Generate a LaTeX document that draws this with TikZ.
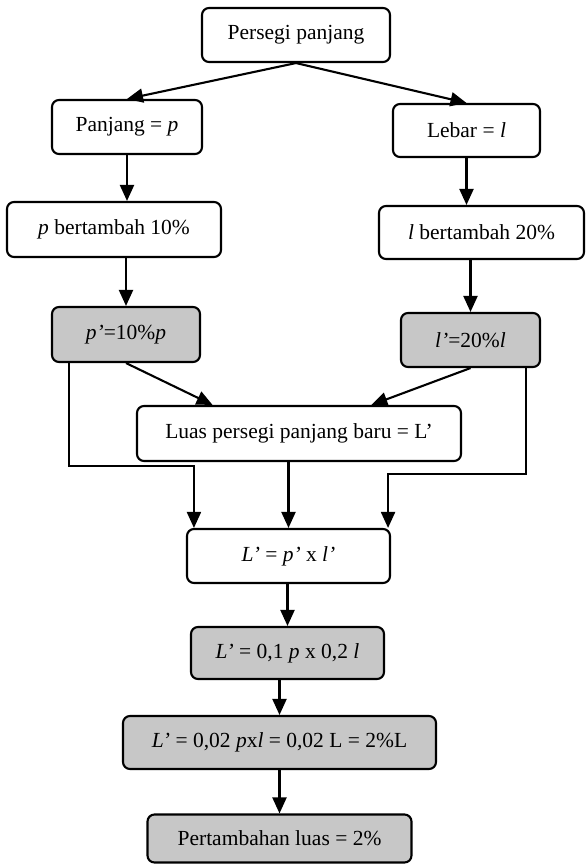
\documentclass[tikz,border=0pt]{standalone}
\usepackage{fontspec}
\setmainfont{Liberation Serif}
\usetikzlibrary{arrows.meta,calc}

\begin{document}
\begin{tikzpicture}[x=1pt,y=-1pt,
  box/.style={draw, line width=2.1pt, rounded corners=7pt, inner sep=0pt,
    align=center, font=\fontsize{21.5}{24}\selectfont},
  shaded/.style={box, fill=black!22},
  arr/.style={line width=2.1pt, -{Triangle[width=14pt,length=16pt]}}]

\useasboundingbox (0,0) rectangle (586,865);

% boxes (centre, width, height)
\node[box, minimum width=188pt, minimum height=54pt] (A) at (296,35) {Persegi panjang};
\node[box, minimum width=150pt, minimum height=54pt] (B) at (127,127) {Panjang = \textit{p}};
\node[box, minimum width=147pt, minimum height=53pt] (C) at (466.5,130.5) {Lebar = \textit{l}};
\node[box, minimum width=214pt, minimum height=55pt] (D) at (114,229.5) {\textit{p} bertambah 10\%};
\node[box, minimum width=205pt, minimum height=53pt] (E) at (481.5,232.5) {\textit{l} bertambah 20\%};
\node[shaded, minimum width=148pt, minimum height=55pt] (F) at (126,334.5) {\textit{p’}=10\%\textit{p}};
\node[shaded, minimum width=139pt, minimum height=54pt] (G) at (470.5,340) {\textit{l’}=20\%\textit{l}};
\node[box, minimum width=324pt, minimum height=55pt] (H) at (299,433.5) {Luas persegi panjang baru = L’};
\node[box, minimum width=203pt, minimum height=54pt] (I) at (288.5,556) {\textit{L’} = \textit{p’} x \textit{l’}};
\node[shaded, minimum width=193pt, minimum height=52pt] (J) at (287.5,653) {\textit{L’} = 0,1 \textit{p} x 0,2 \textit{l}};
\node[shaded, minimum width=313pt, minimum height=53pt] (K) at (279.5,742.5) {\textit{L’} = 0,02 \textit{p}x\textit{l} = 0,02 L = 2\%L};
\node[shaded, minimum width=264pt, minimum height=48pt] (M) at (279.5,838.5) {Pertambahan luas = 2\%};

% connectors
\draw[arr] (A.south) -- (B.north);
\draw[arr] (A.south) -- (C.north);
\draw[arr] (B.south) -- (B.south |- D.north);
\draw[arr] (C.south) -- (C.south |- E.north);
\draw[arr] (F.north |- D.south) -- (F.north);
\draw[arr] (G.north |- E.south) -- (G.north);
\draw[arr] (F.south) -- ($(H.north west)!0.235!(H.north east)$);
\draw[arr] (G.south) -- ($(H.north west)!0.722!(H.north east)$);
\draw[arr] ([xshift=18pt]F.south west) |- ([xshift=8pt,yshift=62pt]I.north west)
  -- ([xshift=8pt]I.north west);
\draw[arr] ([xshift=-15pt]G.south east) |- ([xshift=-3pt,yshift=54pt]I.north east)
  -- ([xshift=-3pt]I.north east);
\draw[arr] (I.north |- H.south) -- (I.north);
\draw[arr] (J.north |- I.south) -- (J.north);
\draw[arr] (K.north |- J.south) -- (K.north);
\draw[arr] (K.south) -- (M.north);

\end{tikzpicture}
\end{document}
